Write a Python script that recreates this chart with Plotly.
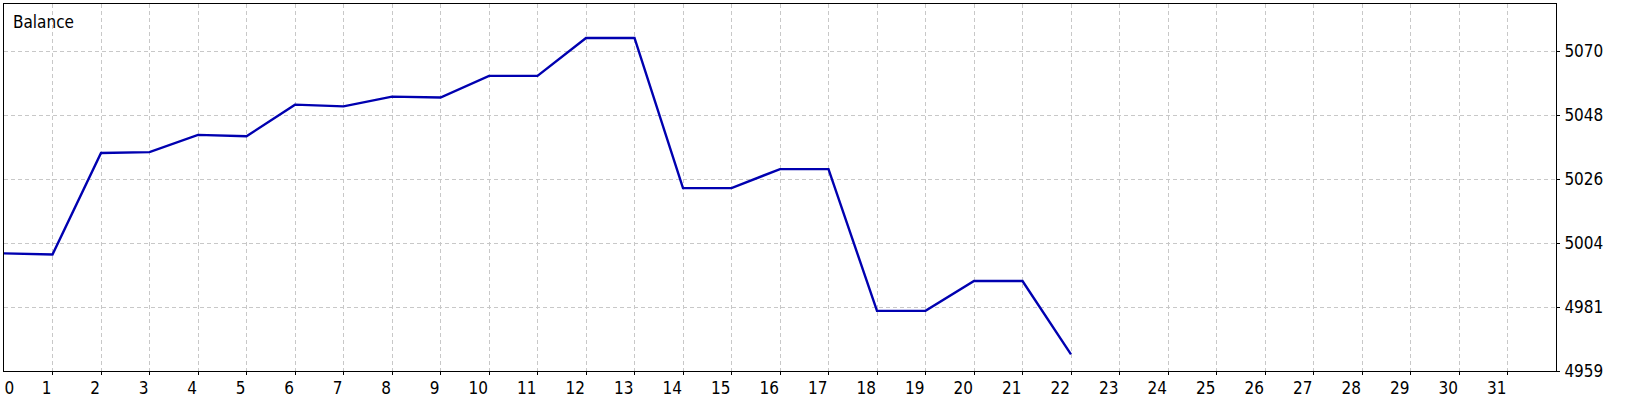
import plotly.graph_objects as go

# ---- data ----
trade_index = list(range(23))
balance = [4999.9, 4999.5, 5034.8, 5035.1, 5041.1, 5040.6, 5051.6, 5051.0,
           5054.4, 5054.1, 5061.6, 5061.6, 5074.8, 5074.8, 5022.6, 5022.6,
           5029.2, 5029.2, 4979.9, 4979.9, 4990.3, 4990.3, 4964.8]

x_tick_values = list(range(1, 32))
x_tick_labels = [str(v) for v in x_tick_values]
y_tick_values = [4959.0, 4981.25, 5003.5, 5025.75, 5048.0, 5070.25]
y_tick_labels = ["4959", "4981", "5004", "5026", "5048", "5070"]

X_RANGE = [0, 32]
Y_RANGE = [4959.0, 5086.6]

FONT = "DejaVu Sans Condensed, Liberation Sans, sans-serif"
GRID = "#c8c8c8"
LINE = "#0000b0"

fig = go.Figure()
fig.add_trace(go.Scatter(
    x=trade_index, y=balance, mode="lines",
    line=dict(color=LINE, width=2.4),
    hoverinfo="skip", showlegend=False,
))
# invisible trace to activate the overlay axis for the "0" label
fig.add_trace(go.Scatter(x=[0], y=[Y_RANGE[0]], xaxis="x2", mode="markers",
                         marker=dict(opacity=0), hoverinfo="skip", showlegend=False))

fig.update_layout(
    width=1640, height=400,
    margin=dict(l=4, r=84, t=4, b=29),
    paper_bgcolor="white", plot_bgcolor="white",
    font=dict(family=FONT, size=17, color="#000000"),
    xaxis=dict(
        range=X_RANGE, tickmode="array", tickvals=x_tick_values, ticktext=x_tick_labels,
        ticklabelposition="outside left", ticklabelstandoff=2,
        showgrid=True, gridcolor=GRID, griddash="4px,3px", gridwidth=1,
        showline=True, linecolor="#000000", linewidth=1, mirror=True,
        ticks="outside", ticklen=3, tickcolor="#000000",
        zeroline=False, automargin=False,
        tickfont=dict(family=FONT, size=17, color="#000000"),
    ),
    xaxis2=dict(
        range=X_RANGE, overlaying="x", matches="x", anchor="y", side="bottom",
        tickmode="array", tickvals=[0], ticktext=["0"],
        ticklabelposition="outside right", ticklabelstandoff=2,
        showgrid=False, showline=False, ticks="outside", ticklen=3, tickcolor="rgba(0,0,0,0)",
        zeroline=False, automargin=False,
        tickfont=dict(family=FONT, size=17, color="#000000"),
    ),
    yaxis=dict(
        range=Y_RANGE, side="right", tickmode="array",
        tickvals=y_tick_values, ticktext=y_tick_labels, ticklabelstandoff=1,
        showgrid=True, gridcolor=GRID, griddash="4px,3px", gridwidth=1,
        showline=True, linecolor="#000000", linewidth=1, mirror=True,
        ticks="outside", ticklen=3, tickcolor="#000000",
        zeroline=False, automargin=False,
        tickfont=dict(family=FONT, size=17, color="#000000"),
    ),
    annotations=[dict(
        text="Balance", xref="paper", yref="paper", x=0, y=1,
        xanchor="left", yanchor="top", showarrow=False,
        xshift=7, yshift=-6,
        font=dict(family=FONT, size=17, color="#000000"),
    )],
)

fig.write_html(
    "out.html",
    config={"displayModeBar": False},
    post_script="document.body.style.margin='0';document.body.style.overflow='hidden';",
)
